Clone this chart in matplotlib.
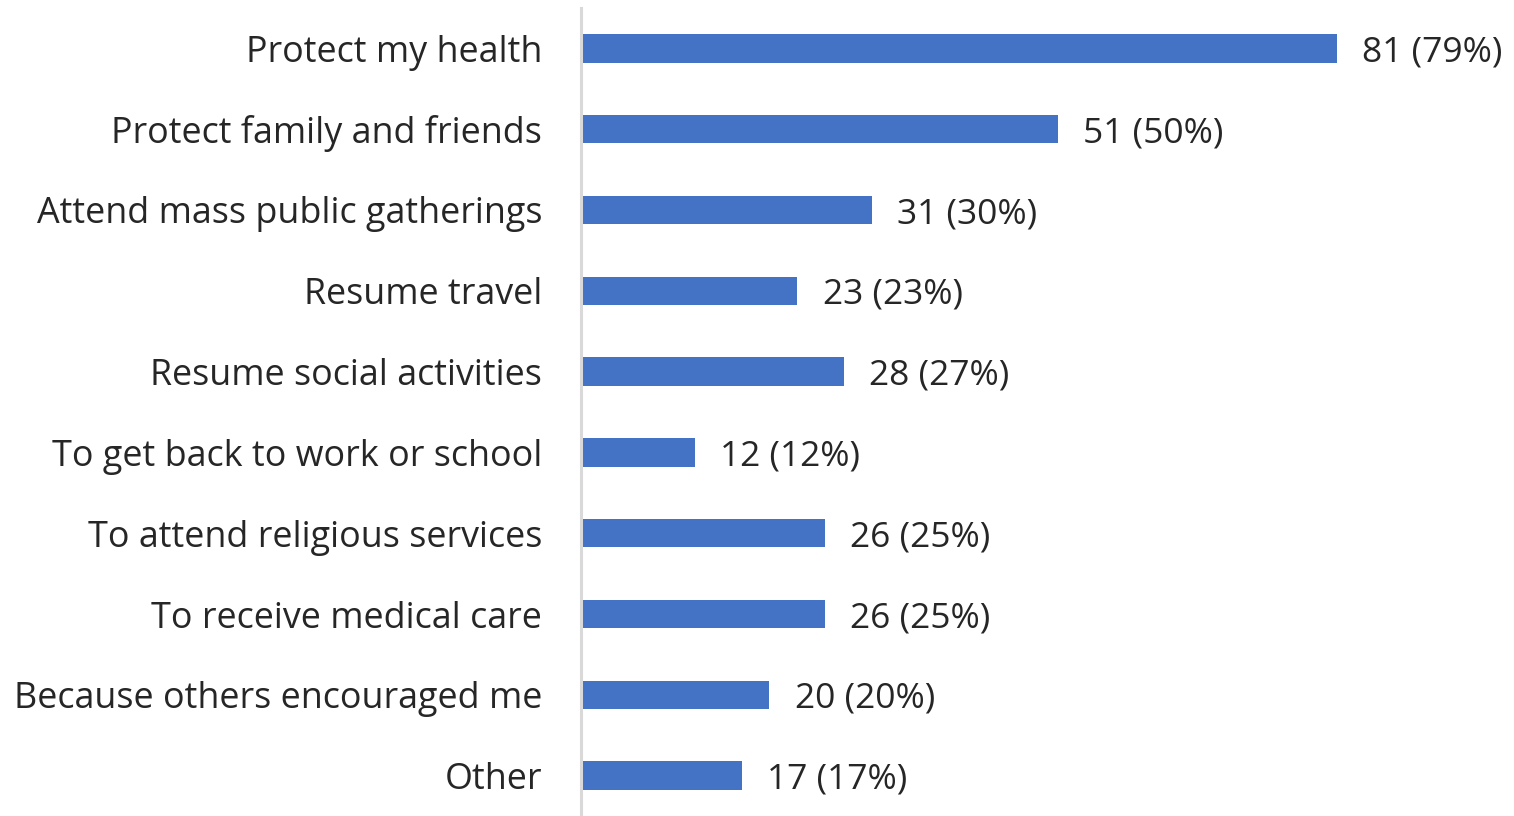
import matplotlib
matplotlib.use("Agg")
import matplotlib.pyplot as plt

categories = [
    "Protect my health",
    "Protect family and friends",
    "Attend mass public gatherings",
    "Resume travel",
    "Resume social activities",
    "To get back to work or school",
    "To attend religious services",
    "To receive medical care",
    "Because others encouraged me",
    "Other",
]
counts = [81, 51, 31, 23, 28, 12, 26, 26, 20, 17]
percents = [79, 50, 30, 23, 27, 12, 25, 25, 20, 17]

plt.rcParams["font.family"] = ["Open Sans", "DejaVu Sans"]

W, H, DPI = 1514, 816, 100
fig = plt.figure(figsize=(W / DPI, H / DPI), dpi=DPI)
ax = fig.add_axes([581 / W, 0.0, 1 - 581 / W, 1 - 8 / H])

bar_color = "#4472C4"
text_color = "#262626"

ypos = list(range(len(categories)))
ax.barh(ypos, counts, height=0.35, color=bar_color, left=0)

for y, c, p in zip(ypos, counts, percents):
    ax.text(c + 2.7, y + 0.05, f"{c} ({p}%)", va="center", ha="left",
            fontsize=25.5, color=text_color)

ax.set_yticks(ypos)
ax.set_yticklabels(categories, fontsize=25.8, color=text_color)
ax.tick_params(axis="y", length=0, pad=28)
ax.set_xticks([])
ax.set_ylim(len(categories) - 0.5, -0.5)
ax.set_xlim(-0.25, 100)

for side in ["top", "right", "bottom"]:
    ax.spines[side].set_visible(False)
ax.spines["left"].set_color("#d9d9d9")
ax.spines["left"].set_linewidth(2.2)

fig.savefig("out.png", dpi=DPI)
